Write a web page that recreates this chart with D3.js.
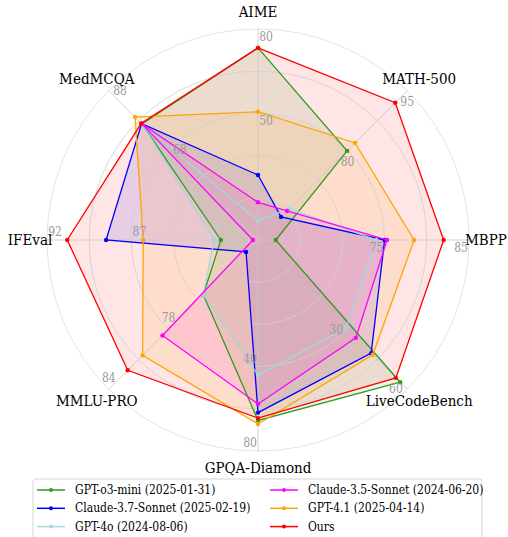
<!DOCTYPE html>
<html>
<head>
  <meta charset="utf-8">
  <script src="https://d3js.org/d3.v7.min.js"></script>
  <style>
    body { margin: 0; background: #fff; }
    svg text { font-family: 'DejaVu Serif Condensed', 'DejaVu Serif', serif; font-stretch: condensed; }
  </style>
</head>
<body>
  <svg id="radar" width="508" height="537"></svg>
  <script>
    // axes, clockwise from the top
    const axes = ['AIME', 'MATH-500', 'MBPP', 'LiveCodeBench', 'GPQA-Diamond', 'MMLU-PRO', 'IFEval', 'MedMCQA'];
    // value at centre and value at outer ring for each axis
    const axisMin = [5, 57.5, 60, -15, -20, 69, 79.5, 38];
    const axisMax = [80, 95, 85, 60, 80, 84, 92, 88];
    // the two tick labels shown on each axis
    const axisTicks = [[50, 80], [80, 95], [75, 85], [30, 60], [40, 80], [78, 84], [87, 92], [68, 88]];

    const models = ['GPT-o3-mini (2025-01-31)', 'Claude-3.7-Sonnet (2025-02-19)', 'GPT-4o (2024-08-06)',
      'Claude-3.5-Sonnet (2024-06-20)', 'GPT-4.1 (2025-04-14)', 'Ours'];
    const colors = ['#2e9b1e', '#0000ff', '#a0d8dc', '#ff00ff', '#ffa500', '#ff0000'];

    const o3mini = [73.3, 79.9, 62.1, 56.5, 65.5, 74.5, 81.7, 76.9];
    const claude37 = [28.1, 63.3, 75.0, 41.9, 61.8, 70.2, 88.5, 77.0];
    const gpt4o = [11.8, 65.4, 74.0, 29.3, 44.0, 74.5, 82.1, 76.8];
    const claude35 = [18.4, 64.8, 75.3, 34.2, 57.7, 78.6, 79.8, 76.9];
    const gpt41 = [50.6, 81.9, 78.5, 42.7, 67.2, 80.6, 86.3, 79.2];
    const ours = [73.3, 92.0, 82.0, 54.3, 64.4, 82.1, 90.8, 77.1];
    const series = [o3mini, claude37, gpt4o, claude35, gpt41, ours];

    const svg = d3.select('#radar');
    const cx = 258, cy = 240, R = 211;
    const g = svg.append('g').attr('transform', `translate(${cx},${cy})`);

    const angle = i => i * 2 * Math.PI / axes.length;
    const scales = axes.map((a, i) => d3.scaleLinear().domain([axisMin[i], axisMax[i]]).range([0, R]));
    const ringScale = d3.scaleLinear().domain([0, 5]).range([0, R]);

    const radial = d3.lineRadial()
      .angle((d, i) => angle(i))
      .radius((d, i) => scales[i](d))
      .curve(d3.curveLinearClosed);

    // fills first
    series.forEach((s, k) => {
      g.append('path').attr('d', radial(s))
        .attr('fill', colors[k]).attr('fill-opacity', 0.1).attr('stroke', 'none');
    });

    // grid rings and spokes
    d3.range(1, 6).forEach(k => {
      g.append('circle').attr('r', ringScale(k))
        .attr('fill', 'none')
        .attr('stroke', k === 5 ? '#dddddd' : '#cfcfcf')
        .attr('stroke-width', 0.8);
    });
    axes.forEach((a, i) => {
      const t = angle(i);
      g.append('line')
        .attr('x1', 0).attr('y1', 0)
        .attr('x2', R * Math.sin(t)).attr('y2', -R * Math.cos(t))
        .attr('stroke', '#c8c8c8').attr('stroke-width', 0.8);
    });

    // lines and markers
    series.forEach((s, k) => {
      g.append('path').attr('d', radial(s))
        .attr('fill', 'none').attr('stroke', colors[k]).attr('stroke-width', 1.3);
      s.forEach((v, i) => {
        const r = scales[i](v), t = angle(i);
        g.append('circle')
          .attr('cx', r * Math.sin(t)).attr('cy', -r * Math.cos(t))
          .attr('r', 2.2).attr('fill', colors[k]);
      });
    });

    // tick labels
    axes.forEach((a, i) => {
      const t = angle(i);
      axisTicks[i].forEach(v => {
        const r = scales[i](v) - 8;
        const x = r * Math.sin(t) + 8 * Math.cos(t);
        const y = -r * Math.cos(t) + 8 * Math.sin(t);
        g.append('text')
          .attr('x', x).attr('y', y)
          .attr('text-anchor', 'middle').attr('dominant-baseline', 'central')
          .attr('font-size', 12).attr('fill', '#999')
          .text(v);
      });
    });

    // axis names
    axes.forEach((a, i) => {
      const t = angle(i);
      g.append('text')
        .attr('x', 228 * Math.sin(t)).attr('y', -228 * Math.cos(t))
        .attr('text-anchor', 'middle').attr('dominant-baseline', 'central')
        .attr('font-size', 15).attr('fill', '#000')
        .text(a);
    });

    // legend
    const legend = svg.append('g');
    legend.append('rect')
      .attr('x', 33).attr('y', 479).attr('width', 449).attr('height', 70)
      .attr('rx', 3).attr('fill', '#fff').attr('fill-opacity', 0.8)
      .attr('stroke', '#d5d5d5');
    models.forEach((m, k) => {
      const col = Math.floor(k / 3), row = k % 3;
      const x0 = col === 0 ? 37 : 270;
      const y0 = 490 + row * 18.3;
      legend.append('line')
        .attr('x1', x0).attr('x2', x0 + 28).attr('y1', y0).attr('y2', y0)
        .attr('stroke', colors[k]).attr('stroke-width', 1.5);
      legend.append('circle').attr('cx', x0 + 14).attr('cy', y0).attr('r', 2).attr('fill', colors[k]);
      legend.append('text')
        .attr('x', x0 + 38).attr('y', y0)
        .attr('dominant-baseline', 'central')
        .attr('font-size', 12).attr('fill', '#000')
        .text(m);
    });
  </script>
</body>
</html>
